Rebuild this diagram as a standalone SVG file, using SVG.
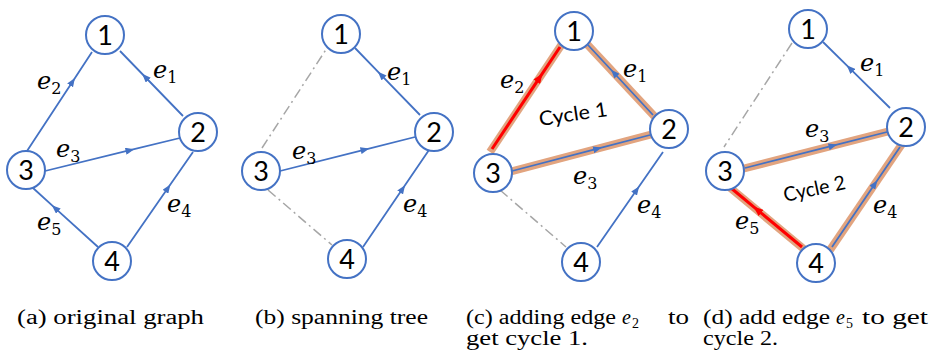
<svg xmlns="http://www.w3.org/2000/svg" width="929" height="358" viewBox="0 0 929 358">
<defs>
<style>
.nd circle{fill:#fff;stroke:#4472C4;stroke-width:2}
.nd text{font-family:Lato,"Open Sans",sans-serif;font-size:27px;text-anchor:middle;fill:#000}
.e{stroke:#4472C4;stroke-width:1.8;fill:none;marker-mid:url(#ab)}
.r{stroke:#FF0000;stroke-width:3;fill:none;marker-mid:url(#ar)}
.hl{stroke:#E2A47F;stroke-width:8;fill:none}
.d{stroke:#A6A6A6;stroke-width:1.5;fill:none;stroke-dasharray:10 4 2 4}
.lbl{font-family:"DejaVu Serif",serif;font-style:italic;font-size:24px;fill:#000}
.sub{font-family:"DejaVu Serif",serif;font-style:normal;font-size:16px}
.cap{font-family:"Liberation Serif",serif;font-size:20px;fill:#000}
.capi{font-family:"Liberation Serif",serif;font-size:20px;font-style:italic;fill:#000}
.caps{font-family:"Liberation Serif",serif;font-size:14px;fill:#000}
.cyc{font-family:Lato,"Open Sans",sans-serif;font-size:20px;fill:#000}
</style>
<marker id="ab" viewBox="0 0 10 8" refX="5" refY="4" markerWidth="9" markerHeight="7" markerUnits="userSpaceOnUse" orient="auto"><path d="M0,0 L10,4 L0,8 z" fill="#4472C4"/></marker>
<marker id="ar" viewBox="0 0 10 8" refX="5" refY="4" markerWidth="10" markerHeight="8" markerUnits="userSpaceOnUse" orient="auto"><path d="M0,0 L10,4 L0,8 z" fill="#FF0000"/></marker>
</defs>
<rect width="929" height="358" fill="#fff"/>
<g id="connectors">
<!-- panel a -->
<path class="e" d="M27,151 L72.5,81.7 L92,52"/>
<path class="e" d="M183,116 L145.2,77 L120,51"/>
<path class="e" d="M45,171 L130,150.2 L180,138"/>
<path class="e" d="M127,247 L167.9,188.1 L193,152"/>
<path class="e" d="M98,247 L55.1,208.1 L33,188"/>
<!-- panel b -->
<path class="d" d="M262,148 L327,48"/>
<path class="d" d="M268,190 L332,245"/>
<path class="e" d="M420,115 L381,74.8 L355,48"/>
<path class="e" d="M280,171 L365,149.6 L415,137"/>
<path class="e" d="M363,247 L402.6,188.8 L429,150"/>
<!-- panel c -->
<path class="hl" d="M490,152 L562,44"/>
<path class="hl" d="M656,118 L585,42"/>
<path class="hl" d="M509,172 L653,134"/>
<path class="r" d="M492,149 L539.6,77.6 L560,47"/>
<path class="e" d="M653,115 L614,73 L588,45"/>
<path class="e" d="M512,171 L597.6,148.7 L650,135"/>
<path class="e" d="M597,247 L636.6,190 L663,152"/>
<path class="d" d="M500,190 L566,247"/>
<!-- panel d -->
<path class="d" d="M792,43 L724,147"/>
<path class="hl" d="M742,169 L890,131"/>
<path class="hl" d="M830,250 L902,144"/>
<path class="hl" d="M805,250 L728,186"/>
<path class="e" d="M890,108 L849.8,68.4 L823,42"/>
<path class="e" d="M745,168 L833,145.7 L887,132"/>
<path class="e" d="M832,247 L874.8,184 L900,147"/>
<path class="r" d="M802,247 L757.3,209.8 L731,188"/>
</g>
<g id="a1" class="nd"><circle cx="105" cy="35" r="19"/><text x="105" y="45">1</text></g>
<g id="a2" class="nd"><circle cx="198" cy="132" r="19"/><text x="198" y="142">2</text></g>
<g id="a3" class="nd"><circle cx="26" cy="170" r="19"/><text x="26" y="180">3</text></g>
<g id="a4" class="nd"><circle cx="112" cy="261" r="19"/><text x="112" y="271">4</text></g>
<g id="b1" class="nd"><circle cx="341" cy="34" r="19"/><text x="341" y="44">1</text></g>
<g id="b2" class="nd"><circle cx="434" cy="132" r="19"/><text x="434" y="142">2</text></g>
<g id="b3" class="nd"><circle cx="261" cy="171" r="19"/><text x="261" y="181">3</text></g>
<g id="b4" class="nd"><circle cx="347" cy="259" r="19"/><text x="347" y="269">4</text></g>
<g id="c1" class="nd"><circle cx="574" cy="31" r="19"/><text x="574" y="41">1</text></g>
<g id="c2" class="nd"><circle cx="669" cy="129" r="19"/><text x="669" y="139">2</text></g>
<g id="c3" class="nd"><circle cx="493" cy="173" r="19"/><text x="493" y="183">3</text></g>
<g id="c4" class="nd"><circle cx="581" cy="262" r="19"/><text x="581" y="272">4</text></g>
<g id="d1" class="nd"><circle cx="808" cy="29" r="19"/><text x="808" y="39">1</text></g>
<g id="d2" class="nd"><circle cx="906" cy="127" r="19"/><text x="906" y="137">2</text></g>
<g id="d3" class="nd"><circle cx="725" cy="171" r="19"/><text x="725" y="181">3</text></g>
<g id="d4" class="nd"><circle cx="816" cy="263" r="19"/><text x="816" y="273">4</text></g>
<g id="labels">
<text class="lbl" x="153" y="78">e<tspan class="sub" dy="5">1</tspan></text>
<text class="lbl" x="37" y="89">e<tspan class="sub" dy="5">2</tspan></text>
<text class="lbl" x="56" y="157">e<tspan class="sub" dy="5">3</tspan></text>
<text class="lbl" x="167" y="212">e<tspan class="sub" dy="5">4</tspan></text>
<text class="lbl" x="37" y="230">e<tspan class="sub" dy="5">5</tspan></text>
<text class="lbl" x="387" y="80">e<tspan class="sub" dy="5">1</tspan></text>
<text class="lbl" x="292" y="159">e<tspan class="sub" dy="5">3</tspan></text>
<text class="lbl" x="403" y="212">e<tspan class="sub" dy="5">4</tspan></text>
<text class="lbl" x="500" y="88">e<tspan class="sub" dy="5">2</tspan></text>
<text class="lbl" x="623" y="77">e<tspan class="sub" dy="5">1</tspan></text>
<text class="lbl" x="573" y="184">e<tspan class="sub" dy="5">3</tspan></text>
<text class="lbl" x="637" y="213">e<tspan class="sub" dy="5">4</tspan></text>
<text class="lbl" x="860" y="71">e<tspan class="sub" dy="5">1</tspan></text>
<text class="lbl" x="805" y="137">e<tspan class="sub" dy="5">3</tspan></text>
<text class="lbl" x="873" y="213">e<tspan class="sub" dy="5">4</tspan></text>
<text class="lbl" x="735" y="229">e<tspan class="sub" dy="5">5</tspan></text>
<text class="cyc" x="540" y="126" transform="rotate(-8.5 540 126)" textLength="69" lengthAdjust="spacingAndGlyphs">Cycle 1</text>
<text class="cyc" x="785" y="202" transform="rotate(-12 785 202)" textLength="63" lengthAdjust="spacingAndGlyphs">Cycle 2</text>
</g>
<g id="captions">
<text class="cap" x="17" y="324" textLength="187" lengthAdjust="spacingAndGlyphs">(a) original graph</text>
<text class="cap" x="255" y="324" textLength="173" lengthAdjust="spacingAndGlyphs">(b) spanning tree</text>
<text class="cap" x="466" y="324" textLength="150" lengthAdjust="spacingAndGlyphs">(c) adding edge</text>
<text class="capi" x="622" y="324">e</text>
<text class="caps" x="632" y="328">2</text>
<text class="cap" x="668" y="324" textLength="21" lengthAdjust="spacingAndGlyphs">to</text>
<text class="cap" x="466" y="345" textLength="122" lengthAdjust="spacingAndGlyphs">get cycle 1.</text>
<text class="cap" x="703" y="324" textLength="127" lengthAdjust="spacingAndGlyphs">(d) add edge</text>
<text class="capi" x="836" y="324">e</text>
<text class="caps" x="846" y="328">5</text>
<text class="cap" x="862" y="324" textLength="66" lengthAdjust="spacingAndGlyphs">to get</text>
<text class="cap" x="703" y="345" textLength="75" lengthAdjust="spacingAndGlyphs">cycle 2.</text>
</g>
</svg>
